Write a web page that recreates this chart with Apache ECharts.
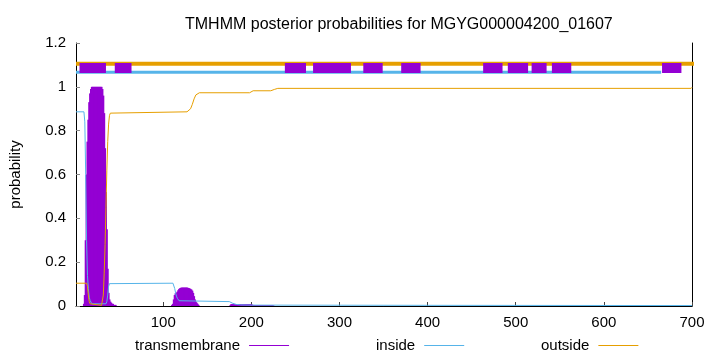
<!DOCTYPE html>
<html>
<head>
<meta charset="utf-8">
<script src="https://cdn.jsdelivr.net/npm/echarts@6/dist/echarts.min.js"></script>
<style>html,body{margin:0;padding:0;background:#fff}#c{width:720px;height:352px}</style>
</head>
<body>
<div id="c"></div>
<script>
// ---- data ----
const xTicks = [100, 200, 300, 400, 500, 600, 700];
const yTicks = [0, 0.2, 0.4, 0.6, 0.8, 1, 1.2];

// transmembrane posterior (impulses), position -> value
const tmPos1 = [10,11,12,13,14,15,16,17,18,19,20,21,22,23,24,25,26,27,28,29,30,31,32,33,34,35,36,37,38,39,40,41,42,43,44,45,46];
const tmVal1 = [0.01,0.05,0.3,0.6,0.75,0.85,0.93,0.97,0.99,1,1,1,1,1,1,1,1,1,1,1,1,0.99,0.96,0.88,0.72,0.52,0.35,0.17,0.06,0.03,0.02,0.015,0.01,0.01,0.005,0.005,0.005];
const tmPos2 = [110,111,112,113,114,115,116,117,118,119,120,121,122,123,124,125,126,127,128,129,130,131,132,133,134,135,136,137,138,139,140];
const tmVal2 = [0.005,0.01,0.03,0.05,0.058,0.06,0.065,0.072,0.078,0.081,0.083,0.084,0.084,0.084,0.084,0.084,0.084,0.084,0.083,0.082,0.08,0.078,0.075,0.07,0.06,0.045,0.03,0.02,0.015,0.01,0.005];
const tmPos3 = [176,177,178,179,180,181,182,183,184,185,186,187,188,189,190,191,192,193,194,195,196,197,198,199,200,201,202,203,204,205,206,207,208,209,210,211,212,213,214,215,216,217,218,219,220,221,222,223,224,225];
const tmVal3 = [0.003,0.008,0.008,0.008,0.008,0.008,0.008,0.008,0.008,0.008,0.008,0.008,0.008,0.008,0.008,0.008,0.008,0.008,0.008,0.008,0.008,0.008,0.008,0.008,0.008,0.006,0.004,0.004,0.004,0.004,0.004,0.004,0.004,0.004,0.004,0.004,0.004,0.004,0.004,0.004,0.004,0.004,0.004,0.004,0.004,0.004,0.004,0.004,0.004,0.003];

// inside posterior (line)
const inPos = [1,10,11,12,13,14,15,16,17,19,35,36,37,38,39,40,111,112,113,114,115,116,117,118,120,175,177,179,181,183,185,188,200,400,700];
const inVal = [0.886,0.886,0.84,0.6,0.3,0.14,0.08,0.04,0.025,0.01,0.01,0.02,0.05,0.09,0.102,0.104,0.104,0.095,0.08,0.06,0.045,0.035,0.028,0.024,0.02,0.02,0.016,0.012,0.009,0.007,0.006,0.005,0.004,0.003,0.002];

// outside posterior (line)
const outPos = [1,13,14,15,16,17,18,30,31,32,33,34,35,36,37,38,39,40,42,127,129,131,133,135,137,139,141,198,200,202,222,224,226,228,230,699,700];
const outVal = [0.104,0.104,0.09,0.05,0.02,0.01,0.003,0.003,0.01,0.05,0.15,0.28,0.45,0.62,0.75,0.83,0.87,0.88,0.886,0.886,0.89,0.9,0.92,0.945,0.963,0.971,0.973,0.973,0.978,0.982,0.982,0.985,0.988,0.991,0.993,0.993,0.998];

// topology bars at the top: [start, end]
const topoOutside = [[1, 732]];
const topoInside = [[1, 665]];
const topoTM = [[5,35],[45,64],[238,262],[270,313],[327,349],[370,392],[463,485],[491,514],[518,535],[541,563],[666,688]];
const topoLevels = { outside: 1.105, inside: 1.067, tm: 1.086 };

const legendNames = ['transmembrane', 'inside', 'outside'];
const titleText = 'TMHMM posterior probabilities for MGYG000004200_01607';

// ---- build ----
const zip = (p, v) => p.map((x, i) => [x, v[i]]);
const tmData = zip(tmPos1, tmVal1).concat(zip(tmPos2, tmVal2), zip(tmPos3, tmVal3));
const segs = (arr, lvl) => {
  const out = [];
  arr.forEach(([a, b], i) => { if (i) out.push('-'); out.push([a, lvl], [b, lvl]); });
  return out;
};

const FONT = "'Liberation Sans', Arial, sans-serif";
const PURPLE = '#9400d3', BLUE = '#56b4e9', ORANGE = '#e69f00';

const chart = echarts.init(document.getElementById('c'), null, { renderer: 'canvas' });
const mkLegend = (name, color, left) => ({
  data: [{ name: name, icon: 'path://M0,0H40V1H0Z',
    itemStyle: { color: color, borderColor: color, borderWidth: 0, opacity: 1 } }],
  left: left, top: 333, align: 'right',
  itemWidth: 40, itemHeight: 1.5, selectedMode: false,
  itemStyle: { color: color, borderColor: color, borderWidth: 0 },
  textStyle: { fontFamily: FONT, fontSize: 15, color: '#000', padding: [0, 4, 0, 0] }
});
chart.setOption({
  animation: false,
  title: { text: titleText, left: 180, top: 12,
    textStyle: { fontFamily: FONT, fontSize: 16, fontWeight: 'normal', color: '#000' } },
  legend: [mkLegend(legendNames[0], PURPLE, 130), mkLegend(legendNames[1], BLUE, 371), mkLegend(legendNames[2], ORANGE, 536)],
  grid: { left: 73, right: 28, top: 43, bottom: 46 },
  xAxis: {
    type: 'value', min: 1, max: 700,
    axisLine: { show: true, lineStyle: { color: '#000', width: 1 } },
    axisTick: { show: true, inside: true, length: 4, customValues: xTicks, lineStyle: { color: '#444' } },
    axisLabel: { customValues: xTicks, fontFamily: FONT, fontSize: 15, color: '#000', margin: 9 },
    splitLine: { show: false }
  },
  yAxis: [{
    type: 'value', min: 0, max: 1.2, interval: 0.2,
    name: 'probability', nameLocation: 'middle', nameGap: 53, nameRotate: 90,
    nameTextStyle: { fontFamily: FONT, fontSize: 15, color: '#000' },
    axisLine: { show: true, lineStyle: { color: '#000', width: 1 } },
    axisTick: { show: true, inside: true, length: 4, lineStyle: { color: '#888' } },
    axisLabel: { fontFamily: FONT, fontSize: 15, color: '#000', margin: 10,
      formatter: v => String(+v.toFixed(1)) },
    splitLine: { show: false }
  }, {
    type: 'value', min: 0, max: 1.2, position: 'right',
    axisLine: { show: true, lineStyle: { color: '#000', width: 1 } },
    axisTick: { show: false }, axisLabel: { show: false }, splitLine: { show: false }
  }],
  series: [
    { name: 'transmembrane', type: 'bar', data: tmData, barWidth: 2, color: PURPLE,
      itemStyle: { color: PURPLE, borderColor: PURPLE, borderWidth: 0 }, z: 2, large: false },
    { name: 'inside', type: 'line', data: zip(inPos, inVal), symbol: 'none', color: BLUE,
      itemStyle: { color: BLUE, borderColor: BLUE },
      lineStyle: { color: BLUE, width: 1 }, z: 3 },
    { name: 'outside', type: 'line', data: zip(outPos, outVal), symbol: 'none', color: ORANGE,
      itemStyle: { color: ORANGE, borderColor: ORANGE },
      lineStyle: { color: ORANGE, width: 1 }, z: 4 },
    { name: 'topo-out', type: 'line', data: segs(topoOutside, topoLevels.outside), symbol: 'none',
      clip: false, lineStyle: { color: ORANGE, width: 4, cap: 'butt' }, z: 5 },
    { name: 'topo-in', type: 'line', data: segs(topoInside, topoLevels.inside), symbol: 'none',
      clip: false, lineStyle: { color: BLUE, width: 3, cap: 'butt' }, z: 5 },
    { name: 'topo-tm', type: 'custom', z: 6, clip: false,
      data: topoTM.map(([a, b]) => [a, b, topoLevels.tm]),
      encode: { x: [0, 1], y: 2 },
      renderItem: (params, api) => {
        const s = api.coord([api.value(0), api.value(2)]);
        const e = api.coord([api.value(1), api.value(2)]);
        return { type: 'rect', shape: { x: s[0], y: s[1] - 5, width: e[0] - s[0], height: 10 },
          style: { fill: PURPLE } };
      } }
  ]
});
</script>
</body>
</html>
